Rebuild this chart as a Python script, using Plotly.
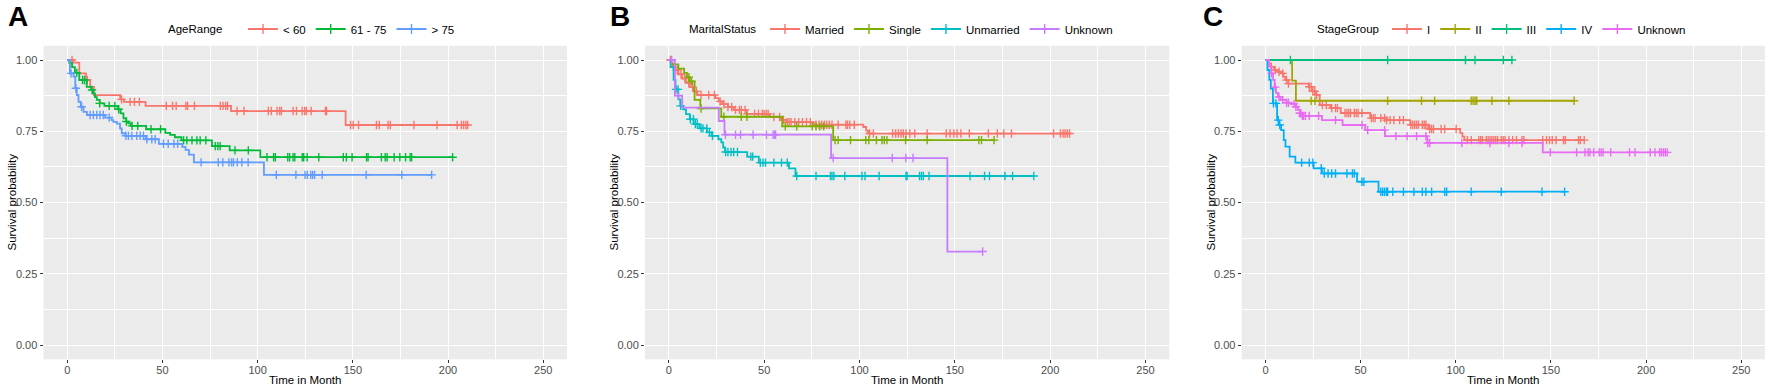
import plotly.graph_objects as go

# ---------------- Panel A : AgeRange ----------------
A_groups = ["< 60", "61 - 75", "> 75"]
A_colors = ["#F8766D", "#00BA38", "#619CFF"]

A1_time = [3.2, 6.3, 9.8, 12, 14, 27.8, 29.8, 41.1, 86, 146.2]
A1_surv = [0.991, 0.953, 0.930, 0.906, 0.877, 0.862, 0.853, 0.839, 0.821, 0.772]
A1_end = 210.3
A1_cens = [2.5, 10.5, 28.5, 33, 35.3, 37.9, 52, 55.3, 57.2, 62.3, 63.2, 66.8, 80.4, 81.8, 83.2, 84.2,
           89.2, 92.8, 105.6, 107.2, 110.2, 111.6, 112.5, 118.6, 120.4, 123.4, 124.7, 125.6, 128.1,
           135.6, 136.2, 148.8, 150.2, 153, 162.4, 163.9, 168.5, 169.7, 182.1, 194.2, 204.8, 207,
           208.2, 209.4, 210.3]

A2_time = [1, 2.5, 4, 6.3, 10.2, 12.5, 13.5, 14.5, 15.5, 17, 19.5, 26.5, 28, 29.5, 31, 32, 33.4,
           41.4, 51.5, 54, 56.5, 60, 76, 85.3, 101.4]
A2_surv = [0.99, 0.975, 0.955, 0.93, 0.906, 0.895, 0.883, 0.870, 0.860, 0.848, 0.839, 0.827, 0.813,
           0.795, 0.784, 0.778, 0.769, 0.757, 0.744, 0.737, 0.729, 0.718, 0.698, 0.683, 0.659]
A2_end = 202.4
A2_cens = [5, 8, 9, 13, 17, 22, 25, 27, 31, 34, 37, 44, 49, 61.1, 62.8, 65.5, 68.1, 69.8, 72.8,
           77.7, 79.1, 80.3, 88.1, 95.1, 104.9, 108.4, 109.3, 115.8, 116.8, 118.6, 119.5, 123.4,
           124.2, 126, 132.1, 145, 146.6, 149.6, 157.2, 158, 165, 167, 168, 171.7, 174.7, 177.7,
           180.1, 180.9, 202.4]

A3_time = [1.4, 3.3, 4.2, 5.0, 5.9, 7.1, 8.5, 10.3, 19.8, 23.3, 24.2, 26, 27.7, 28.6, 30.4, 41.1,
           48.1, 60.4, 62.1, 63.9, 66.5, 103.3]
A3_surv = [0.953, 0.942, 0.901, 0.877, 0.853, 0.836, 0.818, 0.807, 0.798, 0.789, 0.783, 0.777, 0.760,
           0.743, 0.734, 0.722, 0.706, 0.695, 0.685, 0.668, 0.641, 0.597]
A3_end = 191.4
A3_cens = [2, 4.5, 7.5, 12, 13.7, 15.5, 17.2, 18.9, 22, 30.8, 32.1, 33.9, 36.5, 38.3, 40, 41.8, 44.4,
           46.2, 50.5, 53, 56, 58, 70.3, 79.3, 81.7, 84.9, 86.3, 87.3, 89.3, 91.7, 95, 109.8, 120.1,
           124.9, 126.1, 127.9, 128.9, 129.9, 133.9, 157, 175.7, 191.4]

# ---------------- Panel B : MaritalStatus ----------------
B_groups = ["Married", "Single", "Unmarried", "Unknown"]
B_colors = ["#F8766D", "#7CAE00", "#00BFC4", "#C77CFF"]

B1_time = [1, 2, 3, 5, 7, 9, 11, 13, 15, 24.5, 26.2, 28, 31, 34, 40.7, 53, 58.5, 62, 76, 102, 103.5, 104.5]
B1_surv = [0.99, 0.975, 0.965, 0.95, 0.935, 0.92, 0.905, 0.89, 0.877, 0.866, 0.855, 0.845, 0.835,
           0.825, 0.811, 0.800, 0.790, 0.782, 0.773, 0.765, 0.752, 0.742]
B1_end = 210.2
B1_cens = [0.8, 2.4, 4.4, 6.4, 8.4, 10.5, 12.5, 14.5, 16.9, 20.9, 23.9, 26.9, 28.9, 31.0, 33.0, 35.0,
           37.0, 38.0, 40.0, 41.0, 45.0, 47.0, 49.0, 50.0, 51.1, 52.1, 55.1, 58.1, 60.1, 62.1, 63.1,
           64.1, 66.1, 68.1, 70.1, 72.2, 74.2, 77.2, 78.8, 80.2, 81.6, 82.8, 84.2, 85.6, 88.8, 92.9,
           93.7, 94.9, 97.3, 105.3, 107.3, 117.4, 119.0, 120.4, 121.8, 123.0, 124.4, 126.4, 129.0,
           135.5, 145.5, 147.5, 149.5, 151.2, 153.2, 157.6, 167.6, 172.3, 175.7, 179.7, 201.8, 205.4,
           206.8, 207.8, 209.0, 210.2]

B2_time = [1.5, 5, 8, 9.5, 11, 13.5, 16.5, 27.5, 59.5, 86.2]
B2_surv = [0.985, 0.97, 0.955, 0.94, 0.925, 0.86, 0.83, 0.801, 0.767, 0.719]
B2_end = 170.6
B2_cens = [10.5, 11.9, 16.9, 28.9, 38.0, 41.0, 61.1, 67.1, 75.2, 77.2, 79.2, 81.2, 87.2, 88.8, 95.3,
           103.3, 104.9, 108.9, 111.8, 113.0, 114.4, 124.2, 135.5, 162.6, 164.0, 170.6]

B3_time = [1, 2.5, 3.5, 5, 6, 7.5, 9, 11, 13, 16, 20, 22.5, 26, 27.5, 28.5, 29.5, 41.1, 47.2, 63, 66.4]
B3_surv = [0.975, 0.93, 0.897, 0.862, 0.839, 0.827, 0.81, 0.792, 0.775, 0.76, 0.746, 0.734, 0.722,
           0.711, 0.693, 0.677, 0.661, 0.640, 0.620, 0.593]
B3_end = 191.4
B3_cens = [3.8, 4.8, 6.2, 11.3, 12.9, 13.9, 14.9, 16.9, 17.9, 19.9, 21.3, 22.9, 29.8, 31.0, 32.6, 34.0,
           36.0, 43.0, 44.0, 48.0, 49.4, 50.7, 55.1, 59.1, 62.1, 67.1, 77.2, 84.8, 85.6, 86.6, 92.3,
           101.3, 102.9, 110.3, 124.4, 125.0, 131.5, 132.5, 133.5, 136.5, 158.0, 165.6, 168.2, 176.3,
           180.3, 191.4]

B4_time = [3.2, 7.0, 26.2, 29.2, 85.1, 146.1]
B4_surv = [0.875, 0.833, 0.786, 0.738, 0.656, 0.328]
B4_end = 164.6
B4_cens = [1.5, 5, 29.7, 35, 37.6, 44.2, 51.2, 54.7, 55.5, 56, 86.2, 117.2, 124.3, 128.1, 164.6]

# ---------------- Panel C : StageGroup ----------------
C_groups = ["I", "II", "III", "IV", "Unknown"]
C_colors = ["#F8766D", "#A3A500", "#00BF7D", "#00B0F6", "#E76BF3"]

C1_time = [1.5, 3, 4.5, 6, 8, 9.5, 10.5, 12, 22.7, 24.5, 26.5, 28.5, 34, 39.5, 55, 63.5, 76, 85.5,
           102.3, 103.5, 104.5]
C1_surv = [0.988, 0.976, 0.965, 0.959, 0.953, 0.941, 0.93, 0.917, 0.906, 0.89, 0.878, 0.842, 0.831,
           0.814, 0.796, 0.789, 0.773, 0.758, 0.744, 0.731, 0.719]
C1_end = 167.5
C1_cens = [5.1, 7.1, 9.1, 11.1, 12.1, 23.0, 24.0, 24.9, 25.9, 26.9, 29.9, 31.9, 34.8, 36.8, 37.8, 41.8,
           42.8, 43.8, 44.7, 46.7, 47.7, 48.7, 50.7, 55.6, 56.6, 57.6, 60.6, 62.6, 63.6, 65.5, 67.5,
           70.5, 72.5, 76.4, 77.4, 78.4, 79.4, 80.4, 82.4, 83.4, 84.3, 86.3, 87.3, 88.3, 92.3, 94.2,
           100.2, 106.1, 108.1, 112.1, 113.1, 114.0, 116.0, 117.0, 118.0, 119.0, 120.0, 121.0, 122.0,
           123.9, 124.9, 125.9, 127.9, 129.9, 131.9, 134.8, 135.8, 145.7, 147.7, 149.3, 150.7, 152.7,
           156.6, 157.6, 164.5, 165.5, 167.5]

C2_time = [14, 16]
C2_surv = [0.928, 0.857]
C2_end = 162.2
C2_cens = [24, 26, 64.2, 82, 88.9, 108.1, 109.1, 110.1, 111, 119, 127.9, 162.2]

C3_time = []
C3_surv = []
C3_end = 129.5
C3_cens = [13.1, 64.2, 105.1, 110.1, 125, 129.5]

C4_time = [1, 2, 2.8, 3.9, 6.1, 7, 8.2, 9.6, 10.5, 12.7, 15.7, 25.3, 29.7, 48.1, 59.4]
C4_surv = [0.965, 0.93, 0.90, 0.848, 0.789, 0.772, 0.754, 0.719, 0.696, 0.661, 0.640, 0.620, 0.602,
           0.573, 0.538]
C4_end = 157.2
C4_cens = [4.2, 5.5, 6.7, 7.5, 19.0, 23.0, 24.9, 29.3, 30.9, 32.9, 34.8, 36.8, 42.8, 45.7, 46.7, 50.7,
           51.7, 60.6, 61.6, 62.6, 63.6, 64.2, 66.9, 72.5, 78.0, 82.4, 84.3, 87.3, 94.2, 95.2, 108.1,
           123.9, 145.3, 157.2]

C5_time = [1.8, 3, 4, 4.8, 5.5, 6.5, 8, 11, 13.5, 16, 17, 18, 18.7, 29.7, 40.5, 52.4, 62.8, 85, 145.7]
C5_surv = [0.977, 0.953, 0.93, 0.905, 0.885, 0.87, 0.86, 0.85, 0.846, 0.836, 0.825, 0.813, 0.804,
           0.789, 0.772, 0.754, 0.733, 0.709, 0.676]
C5_end = 211.1
C5_cens = [3.2, 5.1, 7.1, 9.1, 11.1, 12.1, 15.0, 16.0, 18.0, 18.6, 19.4, 20.0, 21.0, 23.0, 27.9, 36.8,
           50.7, 53.7, 62.6, 68.5, 74.4, 79.4, 84.3, 85.3, 86.3, 103.2, 118.0, 127.9, 134.8, 149.7,
           163.5, 167.9, 169.5, 170.5, 172.5, 175.4, 176.4, 177.4, 181.4, 191.3, 194.2, 202.2, 204.7,
           207.1, 208.1, 209.1, 210.1, 211.1]

legend_titles = ["AgeRange", "MaritalStatus", "StageGroup"]
panel_letters = ["A", "B", "C"]
x_title = "Time in Month"
y_title = "Survival probability"

panels = [
    (A_groups, A_colors, [(A1_time, A1_surv, A1_end, A1_cens), (A2_time, A2_surv, A2_end, A2_cens),
                          (A3_time, A3_surv, A3_end, A3_cens)]),
    (B_groups, B_colors, [(B1_time, B1_surv, B1_end, B1_cens), (B2_time, B2_surv, B2_end, B2_cens),
                          (B3_time, B3_surv, B3_end, B3_cens), (B4_time, B4_surv, B4_end, B4_cens)]),
    (C_groups, C_colors, [(C1_time, C1_surv, C1_end, C1_cens), (C2_time, C2_surv, C2_end, C2_cens),
                          (C3_time, C3_surv, C3_end, C3_cens), (C4_time, C4_surv, C4_end, C4_cens),
                          (C5_time, C5_surv, C5_end, C5_cens)]),
]


def surv_at(t, times, survs):
    s = 1.0
    for ti, si in zip(times, survs):
        if ti <= t:
            s = si
    return s


W, H = 1772, 390
x_domains = [(43.5, 567.0), (645.0, 1169.3), (1241.7, 1765.0)]
y_top, y_bot = 45.75, 359.3
y_dom = [1 - y_bot / H, 1 - y_top / H]
legend_y = 1 - 29 / H
letter_x = [6, 608, 1201]
ltitle_x = [166, 687, 1315]
legend_x = [243, 765, 1387]
ytitle_x = [12, 614, 1211]

FONT = "Liberation Sans, Arial, sans-serif"
fig = go.Figure()

for p, (groups, colors, series) in enumerate(panels):
    xa = "x" if p == 0 else f"x{p+1}"
    ya = "y" if p == 0 else f"y{p+1}"
    lg = "legend" if p == 0 else f"legend{p+1}"
    for g, col, (tt, ss, end, cens) in zip(groups, colors, series):
        fig.add_trace(go.Scatter(
            x=[0] + list(tt) + [end], y=[1.0] + list(ss) + [ss[-1] if ss else 1.0],
            mode="lines", line=dict(color=col, width=1.8, shape="hv"),
            xaxis=xa, yaxis=ya, showlegend=False, hoverinfo="skip"))
        fig.add_trace(go.Scatter(
            x=cens, y=[surv_at(c, tt, ss) for c in cens], mode="markers",
            marker=dict(symbol="cross-thin", size=6, color=col, line=dict(color=col, width=1.4)),
            xaxis=xa, yaxis=ya, showlegend=False, hoverinfo="skip"))
        fig.add_trace(go.Scatter(
            x=[None], y=[None], mode="lines+markers", name=g,
            line=dict(color=col, width=1.8),
            marker=dict(symbol="cross-thin", size=7, color=col, line=dict(color=col, width=1.4)),
            xaxis=xa, yaxis=ya, legend=lg, showlegend=True))

    x0, x1 = x_domains[p]
    axis_common = dict(showgrid=True, gridcolor="white", gridwidth=1.1, zeroline=False,
                       showline=False, ticks="outside", ticklen=3, tickwidth=1, tickcolor="#333333",
                       tickfont=dict(family=FONT, size=11, color="#4D4D4D"))
    xkey = "xaxis" if p == 0 else f"xaxis{p+1}"
    ykey = "yaxis" if p == 0 else f"yaxis{p+1}"
    fig.update_layout(**{
        xkey: dict(domain=[x0 / W, x1 / W], anchor=ya, range=[-12.5, 262.5], tickvals=[0, 50, 100, 150, 200, 250],
                   minor=dict(showgrid=True, gridcolor="white", gridwidth=0.5, tickvals=[25, 75, 125, 175, 225], ticks=""),
                   ticklabelstandoff=-3,
                   **axis_common),
        ykey: dict(domain=y_dom, anchor=xa, range=[-0.05, 1.05], tickvals=[0, 0.25, 0.5, 0.75, 1.0],
                   ticktext=["0.00", "0.25", "0.50", "0.75", "1.00"],
                   minor=dict(showgrid=True, gridcolor="white", gridwidth=0.5, tickvals=[0.125, 0.375, 0.625, 0.875], ticks=""),
                   **axis_common),
        lg: dict(orientation="h", xanchor="left", x=legend_x[p] / W, yanchor="middle", y=legend_y,
                 font=dict(family=FONT, size=11.5, color="black"), itemwidth=30,
                 bgcolor="rgba(0,0,0,0)", tracegroupgap=0),
    })
    # panel letter
    fig.add_annotation(text=f"<b>{panel_letters[p]}</b>", xref="paper", yref="paper",
                       x=letter_x[p] / W, y=1 - 17 / H, xanchor="left", yanchor="middle",
                       showarrow=False, font=dict(family=FONT, size=28, color="black"))
    # legend title
    fig.add_annotation(text=legend_titles[p], xref="paper", yref="paper",
                       x=ltitle_x[p] / W, y=legend_y, xanchor="left", yanchor="middle",
                       showarrow=False, font=dict(family=FONT, size=11.5, color="black"))
    # axis titles
    fig.add_annotation(text=x_title, xref="paper", yref="paper",
                       x=((x0 + x1) / 2) / W, y=1 - 380 / H, xanchor="center", yanchor="middle",
                       showarrow=False, font=dict(family=FONT, size=11.5, color="black"))
    fig.add_annotation(text=y_title, xref="paper", yref="paper", textangle=-90,
                       x=ytitle_x[p] / W, y=1 - ((y_top + y_bot) / 2) / H, xanchor="center", yanchor="middle",
                       showarrow=False, font=dict(family=FONT, size=11.5, color="black"))

fig.update_layout(width=W, height=H, margin=dict(l=0, r=0, t=0, b=0),
                  paper_bgcolor="white", plot_bgcolor="#EBEBEB")

fig.write_html("out.html", config={"displayModeBar": False},
               post_script="document.body.style.margin='0';document.body.style.overflow='hidden';")
